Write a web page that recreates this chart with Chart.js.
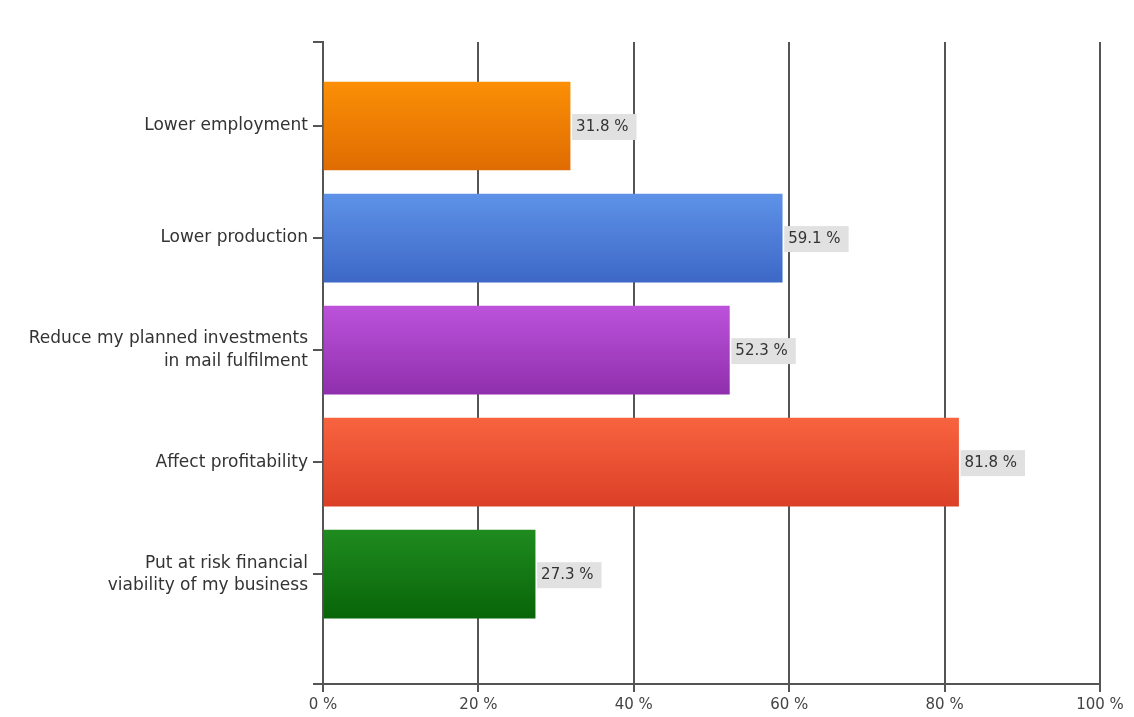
<!DOCTYPE html>
<html>
<head>
<meta charset="utf-8">
<title>Impact of higher postal costs</title>
<script src="https://cdn.jsdelivr.net/npm/chart.js@4"></script>
<style>
  html, body { margin: 0; padding: 0; background: #fff; }
  #wrap { width: 1134px; height: 717px; }
</style>
</head>
<body>
<div id="wrap"><canvas id="chart"></canvas></div>
<script>
// categories, top to bottom
const categories = [
    'Lower employment',
    'Lower production',
    ['Reduce my planned investments', 'in mail fulfilment'],
    'Affect profitability',
    ['Put at risk financial', 'viability of my business']
];
// share of respondents, percent
const shares = [31.8, 59.1, 52.3, 81.8, 27.3];
const xTicks = [0, 20, 40, 60, 80, 100];

// top / bottom colour of each bar's gradient
const barTops = ['#fb8f06', '#5e92e8', '#bc52da', '#f8633f', '#1f8b1f'];
const barBottoms = ['#df6c02', '#3d68c6', '#8f2fae', '#db4027', '#086508'];

const FONT = '"DejaVu Sans", Verdana, sans-serif';
const LINE = '#555';

function barFill(context) {
    const chart = context.chart;
    const i = context.dataIndex;
    if (!chart.chartArea) return barTops[i];
    const yc = chart.scales.y.getPixelForValue(i);
    const g = chart.ctx.createLinearGradient(0, yc - 44, 0, yc + 44);
    g.addColorStop(0, barTops[i]);
    g.addColorStop(1, barBottoms[i]);
    return g;
}

// grey boxed value labels at the end of each bar
const valueLabels = {
    id: 'valueLabels',
    afterDatasetsDraw(chart) {
        const ctx = chart.ctx;
        const meta = chart.getDatasetMeta(0);
        ctx.save();
        ctx.font = '15px ' + FONT;
        ctx.textBaseline = 'middle';
        meta.data.forEach((bar, i) => {
            const text = shares[i].toFixed(1) + ' %';
            const w = ctx.measureText(text).width + 12;
            const x = bar.x + 2;
            const y = bar.y + 1;
            ctx.fillStyle = '#e1e1e1';
            ctx.fillRect(x, y - 13, w, 26);
            ctx.fillStyle = '#333';
            ctx.fillText(text, x + 4, y);
        });
        ctx.restore();
    }
};

new Chart(document.getElementById('chart'), {
    type: 'bar',
    data: {
        datasets: [{
            data: shares.map((v, i) => ({ x: v, y: i })),
            backgroundColor: barFill,
            borderWidth: 0,
            barThickness: 88
        }]
    },
    options: {
        indexAxis: 'y',
        responsive: true,
        maintainAspectRatio: false,
        animation: false,
        layout: { padding: { top: 42, right: 34, left: 0, bottom: 0 } },
        plugins: {
            legend: { display: false },
            tooltip: { enabled: false }
        },
        scales: {
            x: {
                type: 'linear',
                min: 0,
                max: 100,
                afterBuildTicks(scale) {
                    scale.ticks = xTicks.map(v => ({ value: v }));
                },
                afterFit(scale) { scale.height = 33; },
                border: { color: LINE, width: 2 },
                grid: { color: LINE, lineWidth: 2, tickLength: 8, drawOnChartArea: true },
                ticks: {
                    color: '#444',
                    padding: 4,
                    maxRotation: 0,
                    font: { family: FONT, size: 15 },
                    callback: v => v + ' %'
                }
            },
            y: {
                type: 'linear',
                reverse: true,
                offset: false,
                min: -0.75,
                max: 4.98,
                afterBuildTicks(scale) {
                    scale.ticks = [-0.75, 0, 1, 2, 3, 4, 4.98].map(v => ({ value: v }));
                },
                afterFit(scale) { scale.width = 323; },
                border: { color: LINE, width: 2 },
                grid: { color: LINE, lineWidth: 2, tickLength: 10, offset: false, drawOnChartArea: false },
                ticks: {
                    color: '#333',
                    padding: 5,
                    font: { family: FONT, size: 17, lineHeight: 1.3 },
                    callback: v => (Number.isInteger(v) && categories[v]) ? categories[v] : ''
                }
            }
        }
    },
    plugins: [valueLabels]
});
</script>
</body>
</html>
